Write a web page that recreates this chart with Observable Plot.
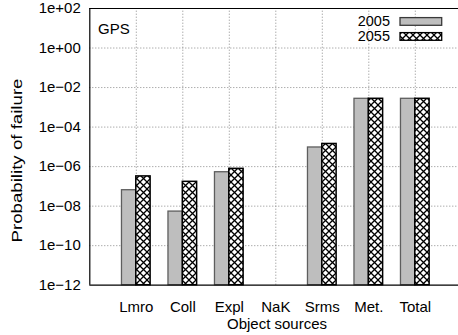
<!DOCTYPE html>
<html>
<head>
<meta charset="utf-8">
<script src="https://cdn.jsdelivr.net/npm/d3@7"></script>
<script src="https://cdn.jsdelivr.net/npm/@observablehq/plot@0.6"></script>
<style>
  html, body { margin: 0; padding: 0; background: white; overflow: hidden; }
  svg text { font-family: "Liberation Sans", Arial, sans-serif; }
</style>
</head>
<body>
<div id="chart"></div>
<script>
const categories = ["Lmro", "Coll", "Expl", "NaK", "Srms", "Met.", "Total"];
const years = ["2005", "2055"];
const values2005 = [6.4e-8, 5.3e-9, 5.2e-7, null, 9.3e-6, 2.7e-3, 2.7e-3];
const values2055 = [3.2e-7, 1.7e-7, 7.7e-7, null, 1.4e-5, 2.7e-3, 2.7e-3];
const yTicks = [1e2, 1e0, 1e-2, 1e-4, 1e-6, 1e-8, 1e-10, 1e-12];
const gridY = [1e0, 1e-2, 1e-4, 1e-6, 1e-8, 1e-10];
const yLabel = "Probability of failure";
const xLabel = "Object sources";
const panelLabel = "GPS";

const W = 458, H = 335;
const barW = 0.308;
const baseline = 1e-12;

const rows = [];
categories.forEach((c, i) => {
  if (values2005[i] != null) rows.push({cat: c, i: i + 1, year: "2005", v: values2005[i]});
  if (values2055[i] != null) rows.push({cat: c, i: i + 1, year: "2055", v: values2055[i]});
});
const pos = categories.map((c, i) => i + 1);

const fmt = d => {
  const e = Math.round(Math.log10(d));
  return "1e" + (e < 0 ? "\u2212" : "+") + String(Math.abs(e)).padStart(2, "0");
};

const grid = {stroke: "#8a8a8a", strokeDasharray: "1,2", strokeWidth: 1};

const plot = Plot.plot({
  width: W,
  height: H,
  marginLeft: 89.3,
  marginTop: 8,
  marginBottom: 50.3,
  marginRight: 0,
  style: {fontFamily: "Liberation Sans, Arial, sans-serif", fontSize: "15px", background: "white"},
  x: {type: "linear", domain: [0, 8], range: [89.3, 461.3], axis: null},
  y: {type: "log", domain: [1e-12, 1e2], range: [284.7, 8], axis: null},
  marks: [
    Plot.ruleY(gridY, {x1: 0, x2: 8, ...grid}),
    Plot.ruleX(pos, {y1: 1e-12, y2: 1e2, ...grid}),
    Plot.rect(rows.filter(d => d.year === "2005"), {
      x1: d => d.i - barW, x2: d => d.i, y1: baseline, y2: "v",
      fill: "#bebebe", stroke: "#5e5e5e", strokeWidth: 1.3
    }),
    Plot.rect(rows.filter(d => d.year === "2055"), {
      x1: d => d.i, x2: d => d.i + barW, y1: baseline, y2: "v",
      fill: "url(#xhatch)", stroke: "black", strokeWidth: 1.5
    }),
    Plot.ruleY([1e2, 1e-12], {x1: 0, x2: 8, stroke: "black", strokeWidth: 1.2}),
    Plot.ruleX([0], {y1: 1e-12, y2: 1e2, stroke: "black", strokeWidth: 1.2}),
    Plot.axisY({ticks: yTicks, tickFormat: fmt, tickSize: 0, tickPadding: 9, label: null, fontSize: 15}),
    Plot.axisX({ticks: pos, tickFormat: i => categories[i - 1], tickSize: 0, tickPadding: 16, label: null, fontSize: 15})
  ]
});

const svg = d3.select(plot);
const defs = svg.insert("defs", ":first-child");
const P = 7;
const pat = defs.append("pattern")
  .attr("id", "xhatch").attr("patternUnits", "userSpaceOnUse")
  .attr("width", P).attr("height", P);
pat.append("rect").attr("width", P).attr("height", P).attr("fill", "white");
pat.append("path")
  .attr("d", `M-1,-1 L${P + 1},${P + 1} M-1,${P + 1} L${P + 1},-1`)
  .attr("stroke", "black").attr("stroke-width", 1.3);

// axis titles and annotations
svg.append("text").text(yLabel)
  .attr("transform", "translate(22,160.5) rotate(-90)")
  .attr("text-anchor", "middle").attr("font-size", 15)
  .attr("textLength", 164).attr("lengthAdjust", "spacingAndGlyphs");
svg.append("text").text(xLabel)
  .attr("x", 277).attr("y", 328.5).attr("text-anchor", "middle").attr("font-size", 15);
svg.append("text").text(panelLabel)
  .attr("x", 98).attr("y", 33.7).attr("text-anchor", "start").attr("font-size", 15);

// legend
const leg = svg.append("g");
years.forEach((y, k) => {
  const cy = 21.4 + k * 15;
  leg.append("text").text(y).attr("x", 390).attr("y", cy + 5)
    .attr("text-anchor", "end").attr("font-size", 14.5);
  leg.append("rect").attr("x", 400).attr("y", cy - 3.8).attr("width", 41.7).attr("height", 7.7)
    .attr("fill", k === 0 ? "#bebebe" : "url(#xhatch)")
    .attr("stroke", k === 0 ? "#3a3a3a" : "black").attr("stroke-width", 1.3);
});

document.getElementById("chart").appendChild(plot);
</script>
</body>
</html>
